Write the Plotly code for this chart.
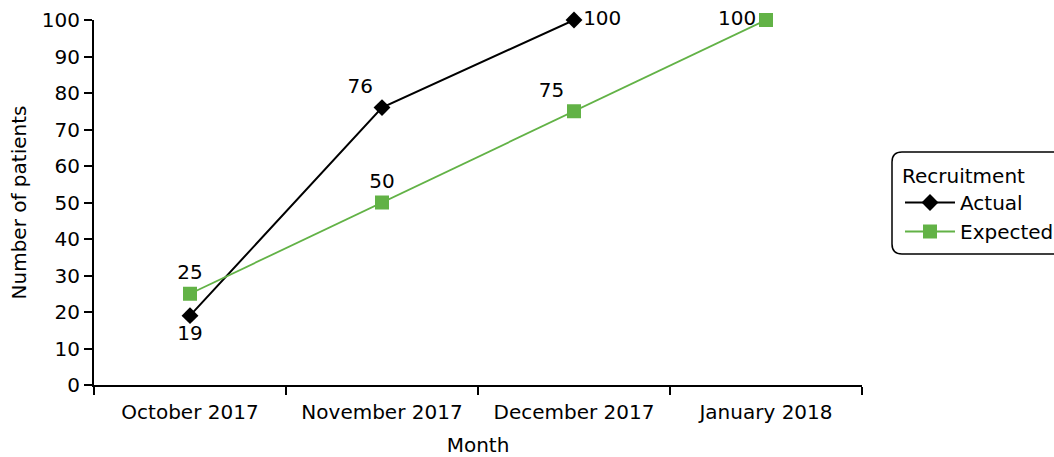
import plotly.graph_objects as go

months = ["October 2017", "November 2017", "December 2017", "January 2018"]
actual = [19, 76, 100]
expected = [25, 50, 75, 100]
actual_labels = ["19", "76", "100"]
expected_labels = ["25", "50", "75", "100"]

FONT = "DejaVu Sans"
GREEN = "#62b246"
FS = 20

W, H = 1054, 457
ML, MR, MT, MB = 94, 192, 20, 72
PW, PH = W - ML - MR, H - MT - MB


def px_x(p):
    return (p - ML) / PW


def px_y(p):
    return 1 - (p - MT) / PH


fig = go.Figure()
fig.add_trace(go.Scatter(
    x=months[:3], y=actual, name="Actual", mode="lines+markers+text",
    line=dict(color="black", width=2),
    marker=dict(symbol="diamond", size=13, color="black"),
    text=actual_labels,
    textposition=["bottom center", "top left", "middle right"],
    textfont=dict(size=FS, color="black", family=FONT),
    cliponaxis=False,
))
fig.add_trace(go.Scatter(
    x=months, y=expected, name="Expected", mode="lines+markers+text",
    line=dict(color=GREEN, width=1.8),
    marker=dict(symbol="square", size=14, color=GREEN),
    text=expected_labels,
    textposition=["top center", "top center", "top left", "middle left"],
    textfont=dict(size=FS, color="black", family=FONT),
    cliponaxis=False,
))

# rounded legend frame
x0, x1, y0, y1, r = 892, 1070, 152, 254, 10
rx, ry = r / PW, r / PH
X0, X1, Y0, Y1 = px_x(x0), px_x(x1), px_y(y0), px_y(y1)
path = (f"M {X0+rx},{Y0} L {X1-rx},{Y0} Q {X1},{Y0} {X1},{Y0-ry} "
        f"L {X1},{Y1+ry} Q {X1},{Y1} {X1-rx},{Y1} L {X0+rx},{Y1} "
        f"Q {X0},{Y1} {X0},{Y1+ry} L {X0},{Y0-ry} Q {X0},{Y0} {X0+rx},{Y0} Z")
fig.add_shape(type="path", path=path, xref="paper", yref="paper",
              line=dict(color="black", width=1.5), fillcolor="rgba(0,0,0,0)")

fig.update_layout(
    width=W, height=H,
    margin=dict(l=ML, r=MR, t=MT, b=MB, autoexpand=False),
    paper_bgcolor="white", plot_bgcolor="white",
    font=dict(family=FONT, size=FS, color="black"),
    showlegend=True,
    legend=dict(
        title=dict(text="Recruitment", font=dict(size=FS)),
        x=px_x(900), xanchor="left", y=px_y(157), yanchor="top",
        bgcolor="rgba(0,0,0,0)", borderwidth=0,
        font=dict(size=FS), tracegroupgap=0, itemwidth=50,
    ),
    xaxis=dict(
        type="category", range=[-0.5, 3.5],
        title=dict(text="Month", standoff=18, font=dict(size=FS)),
        showline=True, linecolor="black", linewidth=2,
        ticks="outside", tickson="boundaries", ticklen=8, tickwidth=1.5, tickcolor="black",
        ticklabelstandoff=8,
        showgrid=False, zeroline=False, automargin=False,
    ),
    yaxis=dict(
        range=[0, 100], dtick=10,
        title=dict(text="Number of patients", standoff=10, font=dict(size=FS)),
        showline=True, linecolor="black", linewidth=2,
        ticks="outside", ticklen=8, tickwidth=1.5, tickcolor="black",
        showgrid=False, zeroline=False, automargin=False,
        ticklabeloverflow="allow",
    ),
)

fig.write_html("out.html", config={"displayModeBar": False},
               post_script="document.body.style.margin='0px';")
